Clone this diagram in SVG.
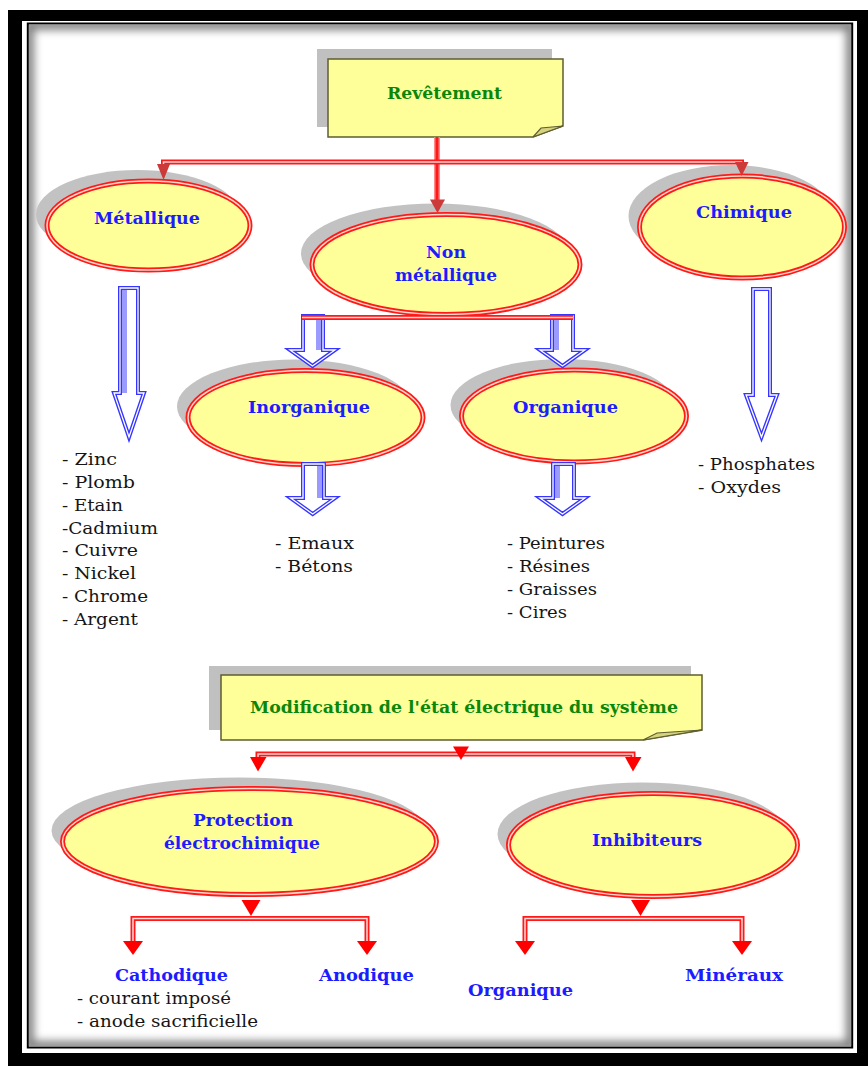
<svg xmlns="http://www.w3.org/2000/svg" width="868" height="1066" viewBox="0 0 868 1066">
<style>
.bshadow{fill:#c0c0c0}
.box{fill:#ffff99;stroke:#5e5e30;stroke-width:1.5}
.flap{fill:#d6d27e;stroke:#5e5e30;stroke-width:1.2}
.eshadow{fill:#c2c2c2}
.ell{fill:#ffff99;stroke:#ff1a1a;stroke-width:5}
.ellin{fill:none;stroke:#ffd6c8;stroke-width:1.5}
.lbl{font-family:"DejaVu Serif","Liberation Serif",serif;font-weight:bold;font-size:17px;fill:#1c1cff}
.ttl{font-family:"DejaVu Serif","Liberation Serif",serif;font-weight:bold;font-size:17px;fill:#0a870a}
.item{font-family:"DejaVu Serif","Liberation Serif",serif;font-size:16px;fill:#151515}
.dout{fill:none;stroke:#ff1a1a;stroke-width:5}
.din{fill:none;stroke:#ffd8d8;stroke-width:1.5}
.ared{fill:#ff0000}
.adark{fill:#cc3a3a}
.bout{fill:#fff;stroke:#3535ff;stroke-width:4;stroke-miterlimit:6}
.bin{fill:none;stroke:#fff;stroke-width:1.3;stroke-miterlimit:6}
.band{fill:#9a9aff}
</style>
<defs>
<clipPath id="innerClip"><rect x="29" y="25" width="822" height="1021"/></clipPath>
<filter id="blur" x="-5%" y="-5%" width="110%" height="110%"><feGaussianBlur stdDeviation="4"/></filter>
</defs>

<g id="frame">
<rect x="0" y="0" width="868" height="1066" fill="#fff"/>
<rect x="8" y="10" width="860" height="1056" fill="#000"/>
<rect x="22" y="21" width="835" height="1032" fill="#fff"/>
<rect x="27.8" y="23.5" width="824.4" height="1024" fill="none" stroke="#000" stroke-width="2"/>
<g clip-path="url(#innerClip)">
<rect x="29" y="25" width="822" height="1021" fill="none" stroke="#000" stroke-opacity="0.5" stroke-width="10" filter="url(#blur)"/>
</g>
</g>

<g id="node-revetement">
<rect class="bshadow" x="317" y="49" width="235" height="78"/>
<path class="box" d="M328,59 H563 V126 L533,137 H328 Z"/>
<path class="flap" d="M533,137 L541,128 L563,126 Z"/>
<text class="ttl" x="387" y="99" textLength="115" lengthAdjust="spacingAndGlyphs">Revêtement</text>
</g>

<g id="node-metallique">
<ellipse class="eshadow" cx="137.5" cy="214.5" rx="101.5" ry="44.5"/>
<ellipse class="ell" cx="148.5" cy="225.5" rx="101.5" ry="44.5"/>
<ellipse class="ellin" cx="148.5" cy="225.5" rx="101.5" ry="44.5"/>
<text class="lbl" x="94" y="224" textLength="106" lengthAdjust="spacingAndGlyphs">Métallique</text>
</g>

<g id="node-nonmetallique">
<ellipse class="eshadow" cx="435" cy="253.5" rx="134" ry="50"/>
<ellipse class="ell" cx="446" cy="264.5" rx="134" ry="50"/>
<ellipse class="ellin" cx="446" cy="264.5" rx="134" ry="50"/>
<text class="lbl" x="426" y="258" textLength="40" lengthAdjust="spacingAndGlyphs">Non</text>
<text class="lbl" x="395" y="281" textLength="102" lengthAdjust="spacingAndGlyphs">métallique</text>
</g>

<g id="node-chimique">
<ellipse class="eshadow" cx="731" cy="216" rx="102.5" ry="51"/>
<ellipse class="ell" cx="742" cy="227" rx="102.5" ry="51"/>
<ellipse class="ellin" cx="742" cy="227" rx="102.5" ry="51"/>
<text class="lbl" x="696" y="218" textLength="96" lengthAdjust="spacingAndGlyphs">Chimique</text>
</g>

<g id="node-inorganique">
<ellipse class="eshadow" cx="294.5" cy="406.5" rx="117.5" ry="47"/>
<ellipse class="ell" cx="305.5" cy="417.5" rx="117.5" ry="47"/>
<ellipse class="ellin" cx="305.5" cy="417.5" rx="117.5" ry="47"/>
<text class="lbl" x="248" y="413" textLength="122" lengthAdjust="spacingAndGlyphs">Inorganique</text>
</g>

<g id="node-organique">
<ellipse class="eshadow" cx="563" cy="405" rx="112.5" ry="46"/>
<ellipse class="ell" cx="574" cy="416" rx="112.5" ry="46"/>
<ellipse class="ellin" cx="574" cy="416" rx="112.5" ry="46"/>
<text class="lbl" x="513" y="413" textLength="105" lengthAdjust="spacingAndGlyphs">Organique</text>
</g>

<g id="list-metallique">
<text class="item" x="62" y="465" textLength="55" lengthAdjust="spacingAndGlyphs">- Zinc</text>
<text class="item" x="62" y="487.5" textLength="73" lengthAdjust="spacingAndGlyphs">- Plomb</text>
<text class="item" x="62" y="510.5" textLength="61" lengthAdjust="spacingAndGlyphs">- Etain</text>
<text class="item" x="62" y="533.5" textLength="96" lengthAdjust="spacingAndGlyphs">-Cadmium</text>
<text class="item" x="62" y="556" textLength="76" lengthAdjust="spacingAndGlyphs">- Cuivre</text>
<text class="item" x="62" y="578.5" textLength="74" lengthAdjust="spacingAndGlyphs">- Nickel</text>
<text class="item" x="62" y="601.5" textLength="86" lengthAdjust="spacingAndGlyphs">- Chrome</text>
<text class="item" x="62" y="624.5" textLength="76" lengthAdjust="spacingAndGlyphs">- Argent</text>
</g>

<g id="list-inorganique">
<text class="item" x="275" y="549" textLength="79" lengthAdjust="spacingAndGlyphs">- Emaux</text>
<text class="item" x="275" y="572" textLength="78" lengthAdjust="spacingAndGlyphs">- Bétons</text>
</g>

<g id="list-organique">
<text class="item" x="507" y="549" textLength="98" lengthAdjust="spacingAndGlyphs">- Peintures</text>
<text class="item" x="507" y="572" textLength="83" lengthAdjust="spacingAndGlyphs">- Résines</text>
<text class="item" x="507" y="595" textLength="90" lengthAdjust="spacingAndGlyphs">- Graisses</text>
<text class="item" x="507" y="618" textLength="60" lengthAdjust="spacingAndGlyphs">- Cires</text>
</g>

<g id="list-chimique">
<text class="item" x="698" y="470" textLength="117" lengthAdjust="spacingAndGlyphs">- Phosphates</text>
<text class="item" x="698" y="493" textLength="83" lengthAdjust="spacingAndGlyphs">- Oxydes</text>
</g>

<g id="node-modification">
<rect class="bshadow" x="209" y="666" width="482" height="64"/>
<path class="box" d="M221,675 H702 V730 L643,740 H221 Z"/>
<path class="flap" d="M643,740 L657,733 L702,730 Z"/>
<text class="ttl" x="250" y="713" textLength="428" lengthAdjust="spacingAndGlyphs">Modification de l'état électrique du système</text>
</g>

<g id="node-protection">
<ellipse class="eshadow" cx="238.5" cy="830.5" rx="187" ry="53"/>
<ellipse class="ell" cx="249.5" cy="841.5" rx="187" ry="53"/>
<ellipse class="ellin" cx="249.5" cy="841.5" rx="187" ry="53"/>
<text class="lbl" x="193" y="826" textLength="100" lengthAdjust="spacingAndGlyphs">Protection</text>
<text class="lbl" x="164" y="849" textLength="156" lengthAdjust="spacingAndGlyphs">électrochimique</text>
</g>

<g id="node-inhibiteurs">
<ellipse class="eshadow" cx="642" cy="834" rx="144.5" ry="51.5"/>
<ellipse class="ell" cx="653" cy="845" rx="144.5" ry="51.5"/>
<ellipse class="ellin" cx="653" cy="845" rx="144.5" ry="51.5"/>
<text class="lbl" x="592" y="846" textLength="110" lengthAdjust="spacingAndGlyphs">Inhibiteurs</text>
</g>

<g id="node-cathodique">
<text class="lbl" x="115" y="981" textLength="113" lengthAdjust="spacingAndGlyphs">Cathodique</text>
<text class="item" x="77" y="1004" textLength="154" lengthAdjust="spacingAndGlyphs">- courant imposé</text>
<text class="item" x="77" y="1027" textLength="181" lengthAdjust="spacingAndGlyphs">- anode sacrificielle</text>
</g>
<g id="node-anodique">
<text class="lbl" x="319" y="981" textLength="95" lengthAdjust="spacingAndGlyphs">Anodique</text>
</g>
<g id="node-organique-inh">
<text class="lbl" x="468" y="996" textLength="105" lengthAdjust="spacingAndGlyphs">Organique</text>
</g>
<g id="node-mineraux">
<text class="lbl" x="685" y="981" textLength="98" lengthAdjust="spacingAndGlyphs">Minéraux</text>
</g>

<g id="connectors">
<!-- top red connectors -->
<path d="M437,137 V200" fill="none" stroke="#ff8a8a" stroke-width="6"/>
<path d="M437,137 V200" fill="none" stroke="#ff1a1a" stroke-width="3"/>
<path class="dout" d="M163.5,167 V162 H741.5 V165"/>
<path class="din" d="M163.5,167 V162 H741.5 V165"/>
<polygon class="adark" points="157,164 170,164 163.5,180"/>
<polygon class="adark" points="735,162 748.5,162 741.7,176"/>
<polygon class="adark" points="430,199.5 445,199.5 437.5,213"/>

<!-- blue block arrows -->
<polygon class="bout" points="120,288 138,288 138,393 144,393 129,437 114,393 120,393"/>
<rect class="band" x="122" y="290" width="5" height="103"/>
<polygon class="bin" points="120,288 138,288 138,393 144,393 129,437 114,393 120,393"/>

<polygon class="bout" points="753,289 770,289 770,395 777,395 761.5,437 746,395 753,395"/>
<polygon class="bin" points="753,289 770,289 770,395 777,395 761.5,437 746,395 753,395"/>

<polygon class="bout" points="303,316 323,316 323,350 335,350 312.5,366 290,350 303,350"/>
<rect class="band" x="316" y="318" width="5" height="32"/>
<polygon class="bin" points="303,316 323,316 323,350 335,350 312.5,366 290,350 303,350"/>

<polygon class="bout" points="552,316 573,316 573,350 585,350 562.5,366 540,350 552,350"/>
<rect class="band" x="554" y="318" width="5" height="32"/>
<polygon class="bin" points="552,316 573,316 573,350 585,350 562.5,366 540,350 552,350"/>

<polygon class="bout" points="303,464 324,464 324,498 335,498 312.7,514 290.5,498 303,498"/>
<rect class="band" x="317" y="466" width="5" height="32"/>
<polygon class="bin" points="303,464 324,464 324,498 335,498 312.7,514 290.5,498 303,498"/>

<polygon class="bout" points="553,464 574,464 574,498 585,498 562.5,514 540,498 553,498"/>
<rect class="band" x="555" y="466" width="5" height="32"/>
<polygon class="bin" points="553,464 574,464 574,498 585,498 562.5,514 540,498 553,498"/>

<path class="dout" d="M302,317.5 H573"/>
<path class="din" d="M302,317.5 H573"/>

<!-- bottom red connectors -->
<path class="dout" d="M258,759 V754 H633 V759"/>
<path class="din" d="M258,759 V754 H633 V759"/>
<polygon class="ared" points="453,746.5 469,746.5 461,760"/>
<polygon class="ared" points="250,757 266.5,757 258,771.5"/>
<polygon class="ared" points="625,757 641.5,757 633,771.5"/>

<polygon class="ared" points="241.5,900 260.5,900 251,916"/>
<path class="dout" d="M133,942 V918.5 H367 V942"/>
<path class="din" d="M133,942 V918.5 H367 V942"/>
<polygon class="ared" points="123,941 143,941 133,955"/>
<polygon class="ared" points="357,941 377,941 367,955"/>

<polygon class="ared" points="631,900 650,900 640.5,916"/>
<path class="dout" d="M525,942 V918.5 H742 V942"/>
<path class="din" d="M525,942 V918.5 H742 V942"/>
<polygon class="ared" points="515,941 535,941 525,955"/>
<polygon class="ared" points="732,941 752,941 742,955"/>
</g>
</svg>
